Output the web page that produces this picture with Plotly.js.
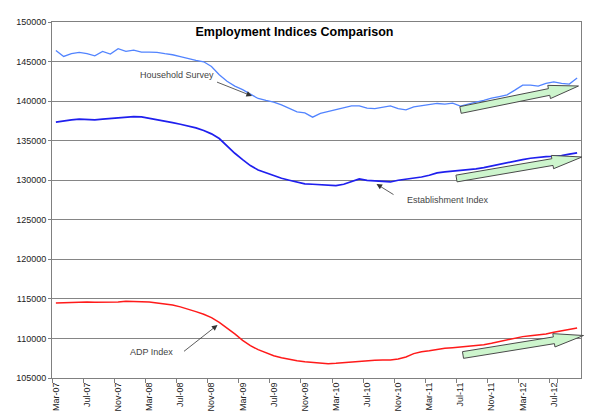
<!DOCTYPE html>
<html><head><meta charset="utf-8">
<script src="https://cdn.plot.ly/plotly-3.0.1.min.js"></script>
<style>html,body{margin:0;padding:0;background:#fff}#chart{width:608px;height:420px}</style>
</head><body><div id="chart"></div>
<script>
const months = [
  "Mar-07","Apr-07","May-07","Jun-07","Jul-07","Aug-07","Sep-07","Oct-07","Nov-07","Dec-07",
  "Jan-08","Feb-08","Mar-08","Apr-08","May-08","Jun-08","Jul-08","Aug-08","Sep-08","Oct-08","Nov-08","Dec-08",
  "Jan-09","Feb-09","Mar-09","Apr-09","May-09","Jun-09","Jul-09","Aug-09","Sep-09","Oct-09","Nov-09","Dec-09",
  "Jan-10","Feb-10","Mar-10","Apr-10","May-10","Jun-10","Jul-10","Aug-10","Sep-10","Oct-10","Nov-10","Dec-10",
  "Jan-11","Feb-11","Mar-11","Apr-11","May-11","Jun-11","Jul-11","Aug-11","Sep-11","Oct-11","Nov-11","Dec-11",
  "Jan-12","Feb-12","Mar-12","Apr-12","May-12","Jun-12","Jul-12","Aug-12","Sep-12","Oct-12"
];
const tickLabels = ["Mar-07","Jul-07","Nov-07","Mar-08","Jul-08","Nov-08","Mar-09","Jul-09","Nov-09",
  "Mar-10","Jul-10","Nov-10","Mar-11","Jul-11","Nov-11","Mar-12","Jul-12"];

const household = [
  146410,145650,145990,146150,145990,145730,146280,145950,146620,146280,
  146450,146200,146200,146160,145990,145860,145610,145350,145140,144970,
  144380,143330,142500,141900,141450,140880,140330,140080,139870,139530,
  139080,138650,138500,137970,138450,138690,138900,139190,139400,139400,
  139110,139060,139240,139400,139060,138900,139280,139400,139530,139700,
  139620,139740,139360,139660,139870,140080,140380,140580,140800,141390,
  142020,142020,141900,142230,142440,142230,142150,142910
];
const establishment = [
  137340,137500,137630,137720,137670,137630,137720,137800,137880,138010,
  138050,138010,137850,137670,137500,137290,137080,136870,136620,136280,
  135860,135270,134300,133410,132610,131850,131300,130960,130540,130250,
  130000,129740,129530,129490,129400,129310,129310,129490,129800,130160,
  129980,129910,129870,129780,130000,130120,130250,130410,130630,130920,
  131050,131140,131220,131300,131430,131600,131810,132020,132280,132440,
  132610,132780,132910,132990,133030,133110,133290,133450
];
const adp = [
  114490,114540,114570,114620,114620,114570,114570,114570,114620,114700,
  114700,114660,114620,114490,114400,114240,113990,113730,113390,113050,
  112630,112040,111330,110570,109760,109090,108580,108160,107820,107570,
  107350,107190,107060,106970,106900,106810,106850,106940,107020,107100,
  107190,107230,107280,107280,107400,107660,108080,108330,108450,108620,
  108750,108830,108920,109000,109090,109210,109380,109600,109850,110060,
  110230,110350,110440,110570,110770,110950,111150,111330
];

const W = 608, H = 420, M = {l: 52, r: 27, t: 22, b: 42};
const pw = W - M.l - M.r, ph = H - M.t - M.b;
const px = x => (x - M.l) / pw;
const py = y => 1 - (y - M.t) / ph;

function blockArrow(tx, ty, hx, hy, shaftW, headW, headL) {
  const dx = hx - tx, dy = hy - ty, len = Math.hypot(dx, dy);
  const ux = dx / len, uy = dy / len, nx = -uy, ny = ux;
  const bx = hx - ux * headL, by = hy - uy * headL;
  const pts = [
    [tx + nx * shaftW / 2, ty + ny * shaftW / 2],
    [bx + nx * shaftW / 2, by + ny * shaftW / 2],
    [bx + nx * headW / 2, by + ny * headW / 2],
    [hx, hy],
    [bx - nx * headW / 2, by - ny * headW / 2],
    [bx - nx * shaftW / 2, by - ny * shaftW / 2],
    [tx - nx * shaftW / 2, ty - ny * shaftW / 2]
  ];
  return 'M' + pts.map(p => px(p[0]).toFixed(5) + ',' + py(p[1]).toFixed(5)).join(' L') + ' Z';
}

const arrowStyle = {type: 'path', xref: 'paper', yref: 'paper',
  fillcolor: '#cdf5cd', line: {color: '#4a4a4a', width: 1}, layer: 'above'};
const shapes = [
  Object.assign({path: blockArrow(460.5, 110, 578.5, 86, 6.8, 13.5, 30)}, arrowStyle),
  Object.assign({path: blockArrow(456.5, 178.5, 582, 157, 6.8, 13.5, 30)}, arrowStyle),
  Object.assign({path: blockArrow(463, 355, 583.5, 335.5, 6.8, 13.5, 30)}, arrowStyle)
];

const txtFont = {family: 'Liberation Sans, Arial, sans-serif', size: 9, color: '#444'};
function label(text, cx, cy) {
  return {text: text, xref: 'paper', yref: 'paper', x: px(cx), y: py(cy),
    xanchor: 'center', yanchor: 'middle', showarrow: false, font: txtFont};
}
function pointer(tailX, tailY, tipX, tipY) {
  return {text: '', xref: 'paper', yref: 'paper', x: px(tipX), y: py(tipY),
    ax: tailX - tipX, ay: tailY - tipY, showarrow: true, arrowhead: 2,
    arrowsize: 1.4, arrowwidth: 0.8, arrowcolor: '#333'};
}
const annotations = [
  label('Household Survey', 177, 74.5),
  pointer(215.5, 81.5, 252, 96),
  label('Establishment Index', 448, 199.5),
  pointer(395, 195.5, 376.5, 184),
  label('ADP Index', 151, 351.5),
  pointer(182.5, 352.5, 217.5, 325)
];

const traces = [
  {x: months, y: household, type: 'scatter', mode: 'lines', name: 'Household Survey',
   line: {color: '#5284ff', width: 1.3}},
  {x: months, y: establishment, type: 'scatter', mode: 'lines', name: 'Establishment Index',
   line: {color: '#1f1fee', width: 1.7}},
  {x: months, y: adp, type: 'scatter', mode: 'lines', name: 'ADP Index',
   line: {color: '#ff1a1a', width: 1.5}}
];

const layout = {
  width: W, height: H,
  margin: M,
  paper_bgcolor: '#fff', plot_bgcolor: '#fff',
  showlegend: false,
  font: {family: 'Liberation Sans, Arial, sans-serif', size: 9, color: '#222'},
  title: {text: '<b>Employment Indices Comparison</b>', xref: 'container', yref: 'container',
    x: 294.5 / W, xanchor: 'center', y: 1 - 31.7 / H, yanchor: 'middle',
    font: {family: 'Liberation Sans, Arial, sans-serif', size: 12.5, color: '#000'}},
  xaxis: {type: 'category', range: [-0.5, months.length - 0.5],
    tickmode: 'array', tickvals: tickLabels, ticktext: tickLabels,
    tickson: 'boundaries', ticks: 'outside', ticklen: 4, tickcolor: '#808080',
    tickangle: -90, tickfont: {size: 9, color: '#222'},
    showgrid: false, showline: true, linecolor: '#808080', linewidth: 1, mirror: true,
    zeroline: false, fixedrange: true},
  yaxis: {range: [105000, 150000], dtick: 5000, tick0: 105000, tickformat: 'd',
    ticks: 'outside', ticklen: 3, tickcolor: '#808080', tickfont: {size: 9, color: '#222'},
    showgrid: true, gridcolor: '#858585', gridwidth: 1,
    showline: true, linecolor: '#808080', linewidth: 1, mirror: true,
    zeroline: false, fixedrange: true},
  shapes: shapes,
  annotations: annotations
};

Plotly.newPlot('chart', traces, layout, {staticPlot: true, displayModeBar: false});
</script>
</body></html>
